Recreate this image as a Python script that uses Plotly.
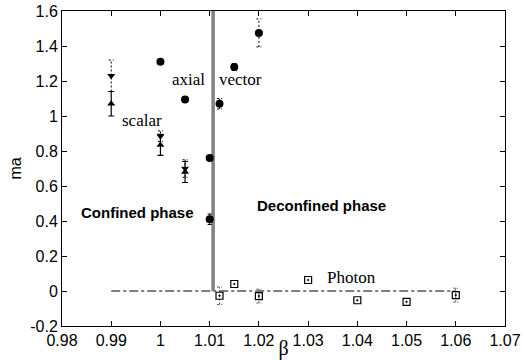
import plotly.graph_objects as go

# scalar (triangle-up, solid error bars)
scalar_up_x = [0.99, 1.0, 1.005]
scalar_up_y = [1.07, 0.835, 0.68]
scalar_up_err = [0.07, 0.06, 0.06]
# scalar (triangle-down, dashed error bars)
scalar_dn_x = [0.99, 1.0, 1.005]
scalar_dn_y = [1.23, 0.885, 0.70]
scalar_dn_err = [0.09, 0.03, 0.05]
# axial (circles)
axial_x = [1.0, 1.005, 1.01, 1.01]
axial_y = [1.31, 1.095, 0.76, 0.41]
axial_err = [0.0, 0.0, 0.0, 0.03]
# vector (circles, dotted error bars)
vector_x = [1.012, 1.015, 1.02]
vector_y = [1.07, 1.28, 1.475]
vector_err = [0.03, 0.02, 0.08]
# photon (open squares)
photon_x = [1.012, 1.015, 1.02, 1.03, 1.04, 1.05, 1.06]
photon_y = [-0.027, 0.04, -0.029, 0.063, -0.053, -0.062, -0.024]
photon_err = [0.05, 0.0, 0.04, 0.0, 0.0, 0.0, 0.04]
# reference lines
transition_beta = 1.0107
zero_line_x = [0.99, 1.06]

x_ticks = [0.98, 0.99, 1.0, 1.01, 1.02, 1.03, 1.04, 1.05, 1.06, 1.07]
x_tick_text = ["0.98", "0.99", "1", "1.01", "1.02", "1.03", "1.04", "1.05", "1.06", "1.07"]
y_ticks = [-0.2, 0, 0.2, 0.4, 0.6, 0.8, 1.0, 1.2, 1.4, 1.6]
y_tick_text = ["-0.2", "0", "0.2", "0.4", "0.6", "0.8", "1", "1.2", "1.4", "1.6"]


def dashed_err(xs, ys, es, cap=0.0005):
    px, py = [], []
    for x, y, e in zip(xs, ys, es):
        if e <= 0:
            continue
        px += [x, x, None, x - cap, x + cap, None, x - cap, x + cap, None]
        py += [y - e, y + e, None, y + e, y + e, None, y - e, y - e, None]
    return px, py


fig = go.Figure()

# zero line (dash-dot)
fig.add_trace(go.Scatter(x=zero_line_x, y=[0, 0], mode="lines",
                         line=dict(color="black", width=1, dash="dashdot"),
                         showlegend=False, hoverinfo="skip"))
# transition line
fig.add_trace(go.Scatter(x=[transition_beta, transition_beta], y=[0, 1.6], mode="lines",
                         line=dict(color="#808080", width=3.5),
                         showlegend=False, hoverinfo="skip"))

# dashed error bars
for xs, ys, es, col in [(scalar_dn_x, scalar_dn_y, scalar_dn_err, "black"),
                        (vector_x, vector_y, vector_err, "black"),
                        (photon_x, photon_y, photon_err, "#555555")]:
    ex, ey = dashed_err(xs, ys, es)
    fig.add_trace(go.Scatter(x=ex, y=ey, mode="lines",
                             line=dict(color=col, width=1, dash="2px,2px"),
                             showlegend=False, hoverinfo="skip"))

fig.add_trace(go.Scatter(x=scalar_up_x, y=scalar_up_y, mode="markers",
                         marker=dict(symbol="triangle-up", size=7, color="black"),
                         error_y=dict(type="data", array=scalar_up_err, color="black",
                                      thickness=1.2, width=3),
                         showlegend=False))
fig.add_trace(go.Scatter(x=scalar_dn_x, y=scalar_dn_y, mode="markers",
                         marker=dict(symbol="triangle-down", size=7, color="black"),
                         showlegend=False))
fig.add_trace(go.Scatter(x=axial_x, y=axial_y, mode="markers",
                         marker=dict(symbol="circle", size=8, color="black"),
                         error_y=dict(type="data", array=axial_err, color="black",
                                      thickness=1, width=2),
                         showlegend=False))
fig.add_trace(go.Scatter(x=vector_x, y=vector_y, mode="markers",
                         marker=dict(symbol="circle", size=8, color="black"),
                         showlegend=False))
fig.add_trace(go.Scatter(x=photon_x, y=photon_y, mode="markers",
                         marker=dict(symbol="square-open-dot", size=7, color="black",
                                     line=dict(width=1.2)),
                         showlegend=False))

serif = "Liberation Serif"
sans = "Liberation Sans"
annots = [
    dict(x=0.9963, y=0.977, text="scalar", font=dict(family=serif, size=17)),
    dict(x=1.0056, y=1.21, text="axial", font=dict(family=serif, size=17)),
    dict(x=1.0163, y=1.21, text="vector", font=dict(family=serif, size=17)),
    dict(x=1.0388, y=0.075, text="Photon", font=dict(family=serif, size=17)),
    dict(x=0.9954, y=0.45, text="<b>Confined phase</b>", font=dict(family=sans, size=15)),
    dict(x=1.0327, y=0.49, text="<b>Deconfined phase</b>", font=dict(family=sans, size=15)),
]
for a in annots:
    fig.add_annotation(xref="x", yref="y", showarrow=False, font_color="black", **a)

fig.update_layout(
    width=524, height=360,
    margin=dict(l=62, r=19, t=11, b=34),
    paper_bgcolor="white", plot_bgcolor="white",
    font=dict(family=sans, size=16, color="black"),
    xaxis=dict(range=[0.98, 1.07], tickvals=x_ticks, ticktext=x_tick_text,
               showgrid=False, zeroline=False, showline=True, linecolor="black",
               linewidth=1, mirror="ticks", ticks="inside", ticklen=5, tickcolor="black",
               tickfont=dict(family=sans, size=16), automargin=False,
               title=dict(text="β", font=dict(family=serif, size=20), standoff=0)),
    yaxis=dict(range=[-0.2, 1.6], tickvals=y_ticks, ticktext=y_tick_text,
               showgrid=False, zeroline=False, showline=True, linecolor="black",
               linewidth=1, mirror="ticks", ticks="inside", ticklen=5, tickcolor="black",
               tickfont=dict(family=sans, size=16), automargin=False,
               title=dict(text="ma", font=dict(family=sans, size=16), standoff=4)),
)

fig.write_html("out.html", config={"displayModeBar": False},
               post_script="document.body.style.margin='0';")
